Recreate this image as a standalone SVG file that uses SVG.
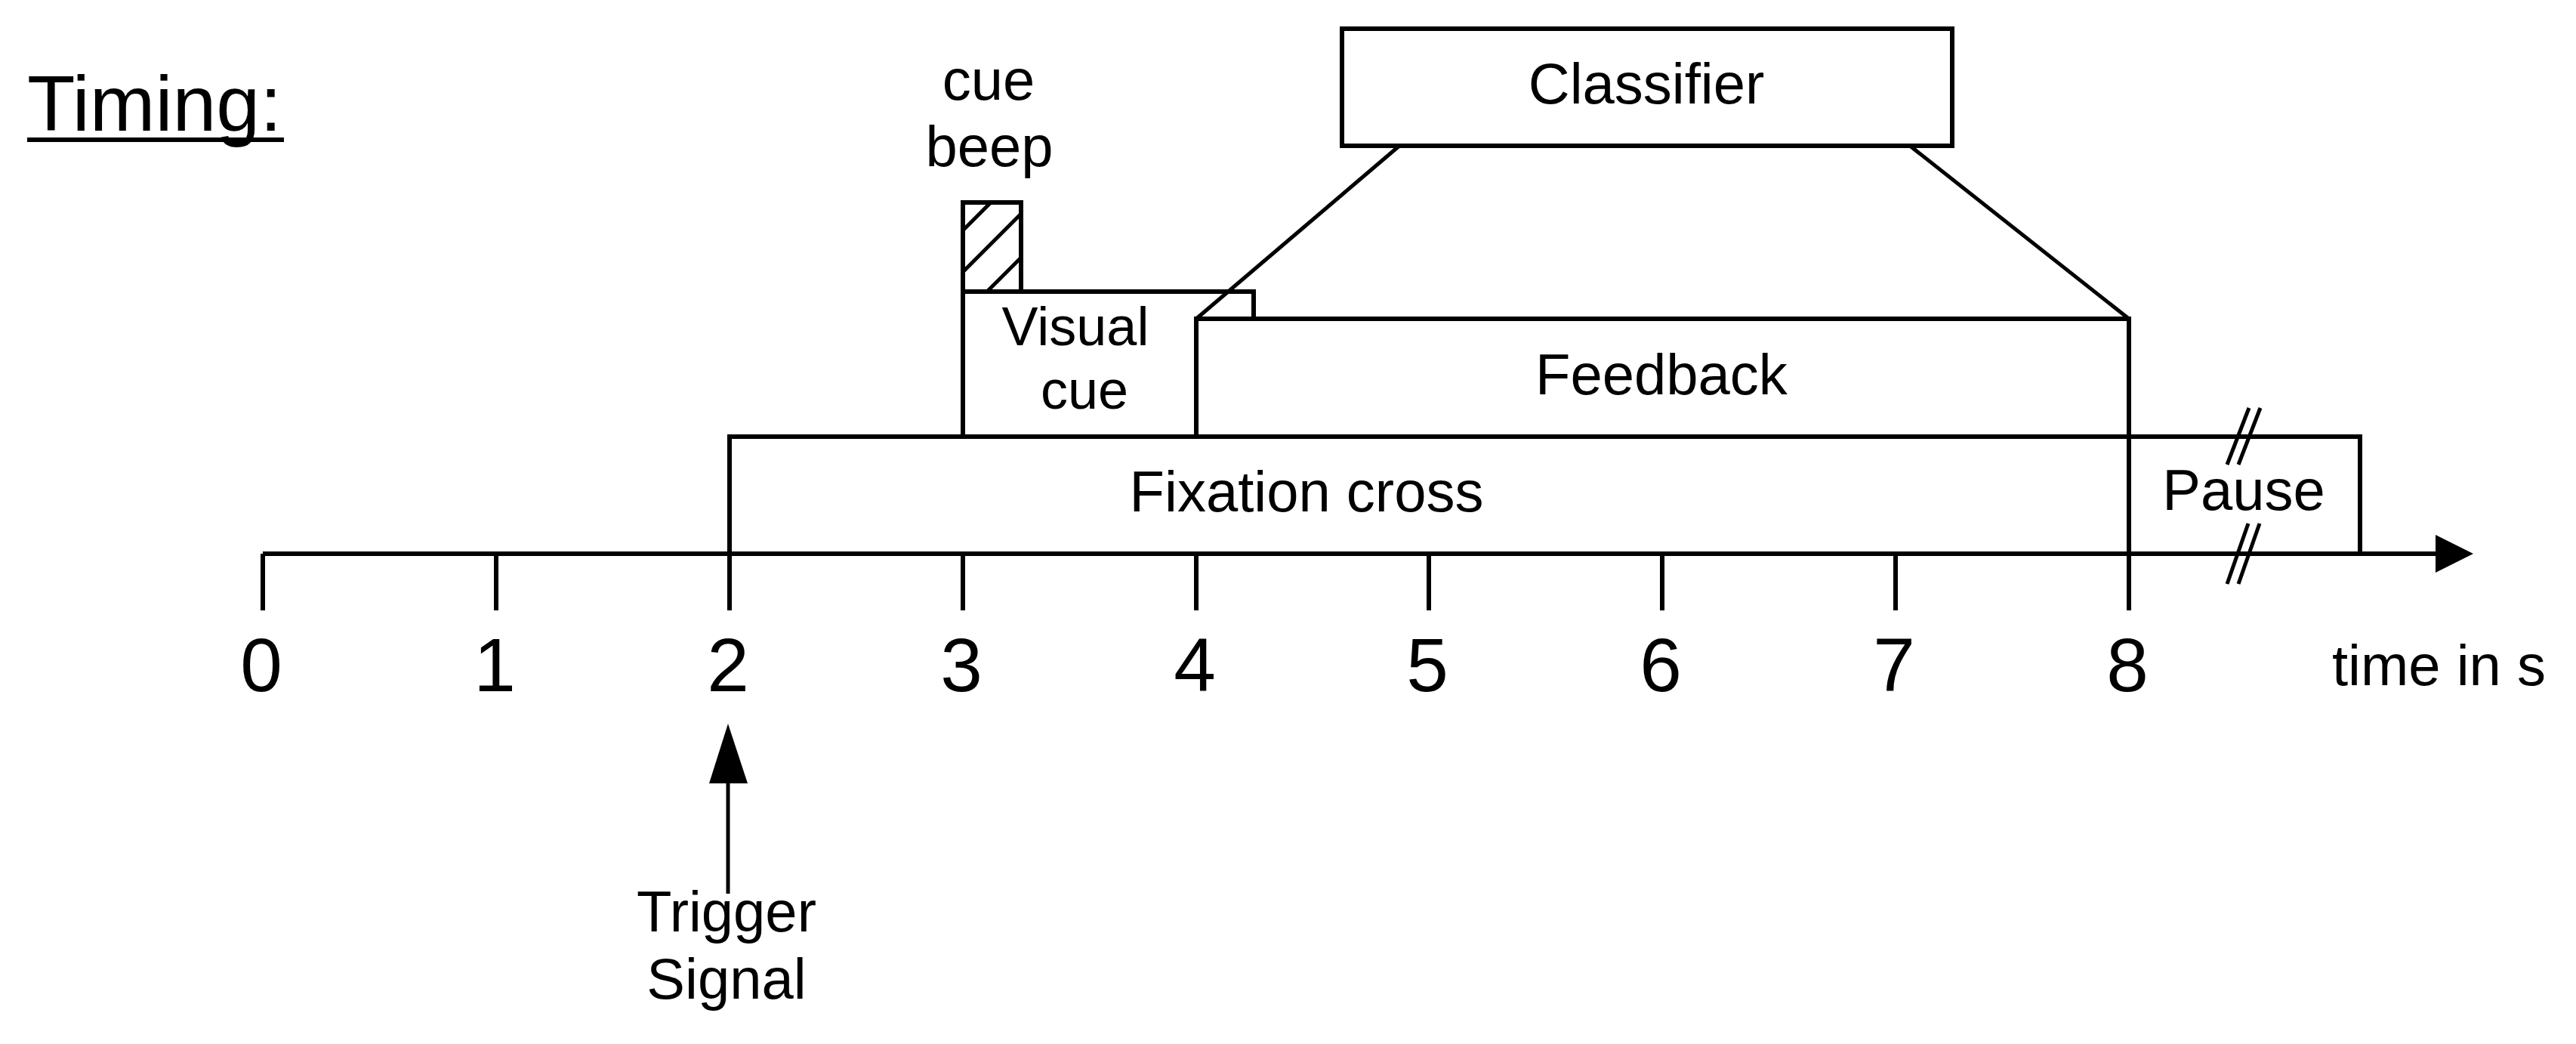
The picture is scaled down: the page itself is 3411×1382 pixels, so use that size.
<svg xmlns="http://www.w3.org/2000/svg" width="3411" height="1382" viewBox="0 0 3411 1382">
<style>
  text { font-family: "Liberation Sans", Arial, sans-serif; fill: #000; }
  .lbl { font-size: 76px; text-anchor: middle; }
  .num { font-size: 100px; text-anchor: middle; }
  .box { fill: #fff; stroke: #000; stroke-width: 6; }
  .ln { fill: none; stroke: #000; stroke-width: 6; }
  .thin { fill: none; stroke: #000; stroke-width: 5; }
</style>
<defs>
  <clipPath id="hclip"><rect x="1275" y="268" width="77" height="118"/></clipPath>
</defs>
<rect width="3411" height="1382" fill="#fff"/>

<g id="title">
  <text x="36" y="173" font-size="104">Timing:</text>
  <line x1="36" y1="185" x2="376" y2="185" class="ln"/>
</g>

<g id="fixation">
  <rect x="966" y="578" width="2159" height="155" class="box"/>
  <text x="1730" y="677" class="lbl">Fixation cross</text>
</g>

<g id="visual-cue">
  <path d="M1275,578 V386 H1660 V422" class="ln" fill="#fff"/>
  <text x="1424" y="457" class="lbl" font-size="72" style="font-size:72px">Visual</text>
  <text x="1436" y="541" class="lbl" style="font-size:72px">cue</text>
</g>

<g id="cue-beep">
  <rect x="1275" y="268" width="77" height="118" class="box"/>
  <g clip-path="url(#hclip)" class="thin">
    <line x1="1240" y1="340" x2="1340" y2="240"/>
    <line x1="1240" y1="395" x2="1380" y2="255"/>
    <line x1="1270" y1="423" x2="1390" y2="303"/>
  </g>
  <text x="1309" y="132" class="lbl">cue</text>
  <text x="1310" y="220" class="lbl">beep</text>
</g>

<g id="feedback">
  <rect x="1584" y="422" width="1235" height="156" class="box"/>
  <text x="2200" y="522" class="lbl">Feedback</text>
</g>

<g id="pause">
  <text x="2971" y="675" class="lbl">Pause</text>
  <g class="thin">
    <line x1="2949" y1="615" x2="2978" y2="540"/>
    <line x1="2964" y1="615" x2="2993" y2="540"/>
    <line x1="2949" y1="773" x2="2977" y2="693"/>
    <line x1="2964" y1="773" x2="2992" y2="693"/>
  </g>
</g>

<g id="classifier">
  <rect x="1777" y="38" width="808" height="155" class="box"/>
  <text x="2180" y="137" class="lbl">Classifier</text>
</g>

<g id="axis">
  <line x1="348" y1="733" x2="3232" y2="733" class="ln"/>
  <polygon points="3275,733 3225,708 3225,758" fill="#000"/>
  <g class="ln">
    <line x1="348" y1="733" x2="348" y2="808"/>
    <line x1="657" y1="733" x2="657" y2="808"/>
    <line x1="966" y1="733" x2="966" y2="808"/>
    <line x1="1275" y1="733" x2="1275" y2="808"/>
    <line x1="1584" y1="733" x2="1584" y2="808"/>
    <line x1="1892" y1="733" x2="1892" y2="808"/>
    <line x1="2201" y1="733" x2="2201" y2="808"/>
    <line x1="2510" y1="733" x2="2510" y2="808"/>
    <line x1="2819" y1="422" x2="2819" y2="808"/>
  </g>
  <text x="346" y="915" class="num">0</text>
  <text x="655" y="915" class="num">1</text>
  <text x="964" y="915" class="num">2</text>
  <text x="1273" y="915" class="num">3</text>
  <text x="1582" y="915" class="num">4</text>
  <text x="1890" y="915" class="num">5</text>
  <text x="2199" y="915" class="num">6</text>
  <text x="2508" y="915" class="num">7</text>
  <text x="2817" y="915" class="num">8</text>
  <text x="3088" y="907" font-size="76">time in s</text>
</g>

<g id="trigger">
  <text x="962" y="1233" class="lbl">Trigger</text>
  <text x="962" y="1322" class="lbl">Signal</text>
</g>

<g id="connectors">
  <line x1="1853" y1="193" x2="1584" y2="422" class="thin"/>
  <line x1="2529" y1="193" x2="2819" y2="422" class="thin"/>
  <line x1="964" y1="1183" x2="964" y2="1030" class="thin"/>
  <polygon points="964,958 939,1037 990,1037" fill="#000"/>
</g>
</svg>
